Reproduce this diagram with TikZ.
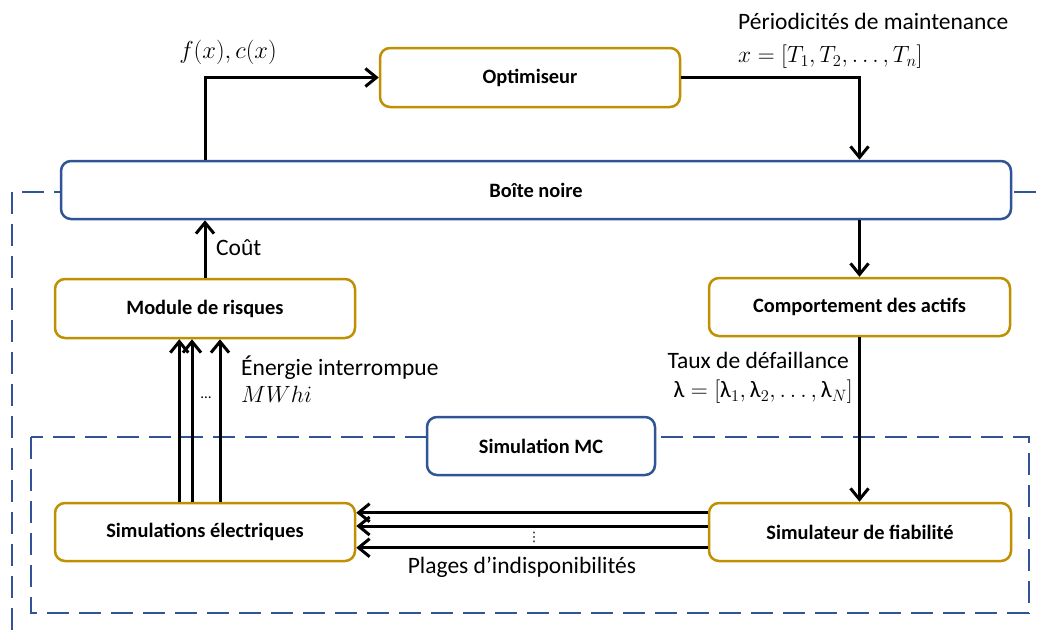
\RequirePackage{fix-cm}
\documentclass[tikz,border=0pt]{standalone}
\usepackage{amsmath}
\usepackage{fontspec}
\setmainfont{Carlito}
\newfontfamily\dejavu{DejaVu Sans}
\usetikzlibrary{arrows.meta,calc}
\definecolor{gold}{HTML}{BF9000}
\definecolor{navy}{HTML}{2F5597}
\newcommand\lam{\text{λ}}
\tikzset{
  box/.style={draw, fill=white, line width=2.5pt, rounded corners=10pt, align=center,
    font=\fontsize{20.4}{24}\selectfont\bfseries, inner sep=0pt},
  goldbox/.style={box, draw=gold},
  bluebox/.style={box, draw=navy},
  arr/.style={line width=3pt, -{Straight Barb[length=11pt,width=18pt,line width=3pt]}},
  dashbox/.style={draw=navy, line width=2.5pt, dash pattern=on 22pt off 10pt},
  lbl/.style={font=\fontsize{23.5}{28}\selectfont, inner sep=0pt},
  mlbl/.style={font=\fontsize{23.5}{28}\selectfont, inner sep=0pt},
}
\begin{document}
\begin{tikzpicture}[x=1pt,y=-1pt]
\useasboundingbox (0,0) rectangle (1042,638);
\clip (0,0) rectangle (1042,638);
% dashed frames
\draw[dashbox] (12,192) rectangle (1062,662);
\draw[dashbox] (31,437) rectangle (1029,613);
% boxes
\node[goldbox, minimum width=300pt, minimum height=59pt] (opt) at (530,77.5) {Optimiseur};
\node[bluebox, minimum width=950pt, minimum height=58pt] (bn) at (536,190) {Boîte noire};
\node[goldbox, minimum width=300pt, minimum height=59pt] (risk) at (205,308.5) {Module de risques};
\node[goldbox, minimum width=301pt, minimum height=58pt] (comp) at (859.5,307) {Comportement des actifs};
\node[bluebox, minimum width=228pt, minimum height=58pt] (mc) at (541,446) {Simulation MC};
\node[goldbox, minimum width=300pt, minimum height=58pt] (elec) at (205,532) {Simulations électriques};
\node[goldbox, minimum width=302pt, minimum height=58pt] (fiab) at (860,532) {Simulateur de fiabilité};
% arrows
\draw[arr] (risk.north |- bn.north) |- (opt.west);
\draw[arr] (opt.east) -| (comp.north |- bn.north);
\draw[arr] (comp.north |- bn.south) -- (comp.north);
\draw[arr] (comp.south) -- (comp.south |- fiab.north);
\draw[arr] (risk.north) -- (risk.north |- bn.south);
\draw[arr] ($(elec.north)+(-25.7,0)$) -- ($(risk.south)+(-25.7,0)$);
\draw[arr] ($(elec.north)+(-13,0)$) -- ($(risk.south)+(-13,0)$);
\draw[arr] ($(elec.north)+(15,0)$) -- ($(risk.south)+(15,0)$);
\draw[arr] ($(fiab.west)+(0,-19.3)$) -- ($(elec.east)+(0,-19.3)$);
\draw[arr] ($(fiab.west)+(0,-6)$) -- ($(elec.east)+(0,-6)$);
\draw[arr] ($(fiab.west)+(0,15.7)$) -- ($(elec.east)+(0,15.7)$);
% labels
\node[mlbl, font=\fontsize{24.5}{28}\selectfont] (lf) at (228,52) {$f(x),c(x)$};
\node[lbl, anchor=west] (lper) at (738,21) {Périodicités de maintenance};
\node[mlbl, anchor=west] (lx) at (738,57) {$x=[T_1,T_2,\ldots,T_n]$};
\node[lbl, anchor=west] (lcout) at (216,248) {Coût};
\node[lbl, anchor=west] (lener) at (241,368) {Énergie interrompue};
\node[mlbl, anchor=west] (lmwh) at (241,394) {$MWhi$};
\node[font=\fontsize{15}{16}\selectfont, inner sep=0pt] (ldots) at (206,398) {…};
\node[lbl, anchor=east] (ltaux) at (849,360) {Taux de défaillance};
\node[mlbl, anchor=east] (llam) at (853,392) {$\lam=[\lam_1,\lam_2,\ldots,\lam_N]$};
\node[font=\dejavu\fontsize{13}{14}\selectfont, inner sep=0pt] (lvdots) at (534,537) {⋮};
\node[lbl] (lplages) at (522,567) {Plages d’indisponibilités};
\end{tikzpicture}
\end{document}
